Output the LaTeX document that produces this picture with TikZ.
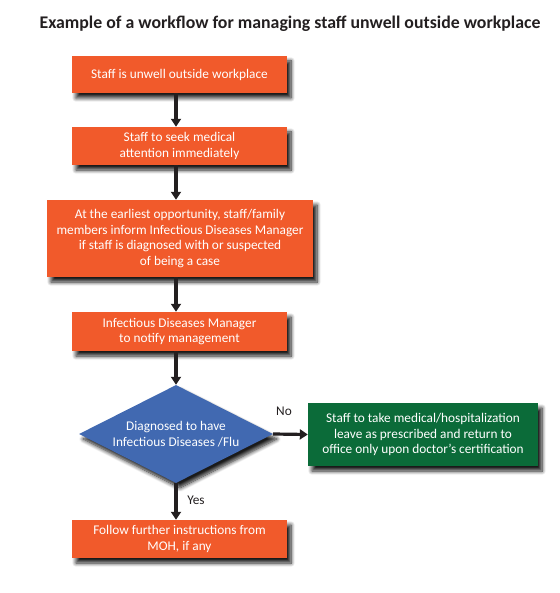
\documentclass[tikz,border=0pt]{standalone}
\usepackage{fontspec}
\setmainfont{Carlito}
\usetikzlibrary{shadows.blur,arrows.meta,shapes.geometric}
\definecolor{orng}{HTML}{F15A2B}
\definecolor{dblue}{HTML}{4169B1}
\definecolor{dgreen}{HTML}{0B6B39}
\definecolor{ink}{HTML}{231F20}
\begin{document}
\begin{tikzpicture}[x=1pt,y=-1pt,
  shad/.style={blur shadow={shadow xshift=4pt,shadow yshift=-5pt,shadow blur steps=8,shadow opacity=90,shadow blur radius=4pt}},
  txt/.style={font=\fontsize{13.3}{15.7}\selectfont},
  box/.style={rectangle,fill=orng,text=white,txt,align=center,inner sep=0pt,shad},
  arr/.style={line width=3.2pt,draw=ink,-{Triangle[length=8pt,width=10pt]}},
  lbl/.style={text=ink,txt,inner sep=0pt}]
\useasboundingbox (0,0) rectangle (559,593);
\node[text=ink,font=\bfseries\fontsize{17.8}{20}\selectfont] (title) at (290,24) {Example of a workflow for managing staff unwell outside workplace};
\node[box,minimum width=215pt,minimum height=37pt] (b1) at (179.5,74.5) {Staff is unwell outside workplace};
\node[box,minimum width=215pt,minimum height=38pt] (b2) at (179.5,146) {Staff to seek medical\\attention immediately};
\node[box,minimum width=266pt,minimum height=77pt] (b3) at (180,238.5) {At the earliest opportunity, staff/family\\members inform Infectious Diseases Manager\\if staff is diagnosed with or suspected\\of being a case};
\node[box,minimum width=215pt,minimum height=39pt] (b4) at (179.5,331.5) {Infectious Diseases Manager\\to notify management};
\node[diamond,aspect=2,fill=dblue,text=white,txt,align=center,inner sep=0pt,minimum width=194pt,minimum height=98pt,shad] (d) at (176,434) {Diagnosed to have\\Infectious Diseases /Flu};
\node[rectangle,fill=dgreen,text=white,txt,align=center,inner sep=0pt,minimum width=230pt,minimum height=63pt,shad] (g) at (423,434.5) {Staff to take medical/hospitalization\\leave as prescribed and return to\\office only upon doctor’s certification};
\node[box,minimum width=215pt,minimum height=38pt] (b5) at (179.5,539) {Follow further instructions from\\MOH, if any};
\node[lbl] (no) at (284,411) {No};
\node[lbl] (yes) at (196,500) {Yes};
\draw[arr] (b1.south -| d.north) -- (b2.north -| d.north);
\draw[arr] (b2.south -| d.north) -- (b3.north -| d.north);
\draw[arr] (b3.south -| d.north) -- (b4.north -| d.north);
\draw[arr] (b4.south -| d.north) -- (d.north);
\draw[arr] (d.east) -- (g.west);
\draw[arr] (d.south) -- (b5.north -| d.south);
\end{tikzpicture}
\end{document}
